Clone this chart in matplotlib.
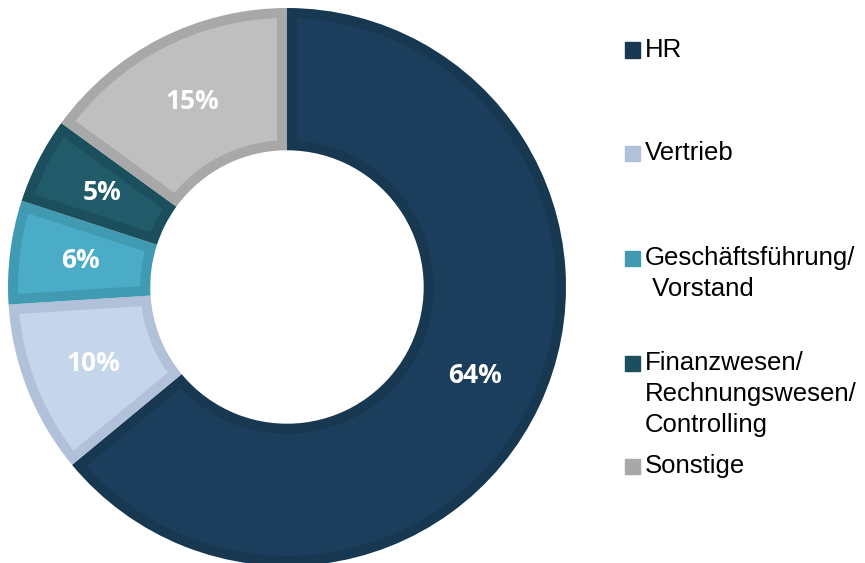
import numpy as np
import matplotlib.pyplot as plt
from matplotlib.patches import Rectangle, Polygon

# Data
categories = ['HR', 'Vertrieb', 'Geschäftsführung/\n Vorstand',
              'Finanzwesen/\nRechnungswesen/\nControlling', 'Sonstige']
shares = [64, 10, 6, 5, 15]
fill_colors = ['#1b3e5c', '#c5d6eb', '#4aacc6', '#215a69', '#bfbfbf']
edge_colors = ['#173850', '#b0c1d9', '#3f9ab2', '#1c4f5d', '#a8a8a8']

W, H = 865, 563
fig = plt.figure(figsize=(W / 100, H / 100), dpi=100)

# donut: centre (287, 287), outer radius ~279 px
cx, cy, r = 287, 287, 279
ax = fig.add_axes([(cx - r) / W, (H - cy - r) / H, 2 * r / W, 2 * r / H])
ax.set_aspect('equal')

# full wedges in the border colour
wedges, texts, autotexts = ax.pie(
    shares, colors=edge_colors, startangle=90, counterclock=False,
    radius=1, wedgeprops=dict(width=0.51, linewidth=0),
    autopct='%d%%', pctdistance=0.745,
    textprops=dict(color='white', fontsize=19, fontweight='bold', family='Open Sans'))

# lighter inner fill, inset by the border width
border = 10 / r
for w, fc in zip(wedges, fill_colors):
    t1, t2 = sorted((w.theta1, w.theta2))
    r_out = w.r - border
    r_in = w.r - w.width + border
    a_out = np.degrees(np.arcsin(border / r_out))
    a_in = np.degrees(np.arcsin(border / r_in))
    th_out = np.radians(np.linspace(t1 + a_out, t2 - a_out, 100))
    th_in = np.radians(np.linspace(t2 - a_in, t1 + a_in, 100))
    xs = np.concatenate([r_out * np.cos(th_out), r_in * np.cos(th_in)])
    ys = np.concatenate([r_out * np.sin(th_out), r_in * np.sin(th_in)])
    ax.add_patch(Polygon(np.column_stack([xs, ys]), closed=True,
                         facecolor=fc, edgecolor='none', zorder=w.get_zorder() + 0.5))
for t in autotexts:
    t.set_zorder(5)

ax.set_xlim(-1, 1)
ax.set_ylim(-1, 1)
ax.axis('off')

# manual legend (uneven spacing as in the original)
legend_y = [50, 153, 258, 363, 466]
line_gap = 31
for label, ec, y in zip(categories, edge_colors, legend_y):
    fig.add_artist(Rectangle((625 / W, 1 - (y + 7.5) / H), 15 / W, 15 / H,
                             transform=fig.transFigure, color=ec))
    for i, line in enumerate(label.split('\n')):
        fig.text(645 / W, 1 - (y + i * line_gap) / H, line, fontsize=18.5,
                 family='Liberation Sans', color='black', va='center', ha='left')

fig.savefig('out.png', dpi=100)
